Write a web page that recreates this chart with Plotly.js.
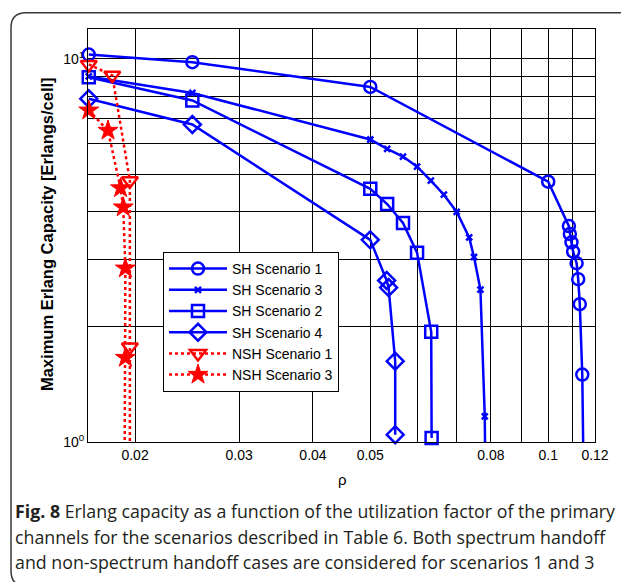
<!DOCTYPE html>
<html>
<head>
<meta charset="utf-8">
<script src="https://cdn.plot.ly/plotly-3.0.1.min.js"></script>
<style>html,body{margin:0;padding:0;background:#fff;}</style>
</head>
<body>
<div id="chart" style="width:621px;height:582px;"></div>
<script>
// ---- data ----
const sh1X = [0.0167, 0.025, 0.05, 0.1, 0.1084, 0.1088, 0.1095, 0.1102, 0.1117, 0.1124, 0.1131, 0.1142, 0.1148];
const sh1Y = [10.26, 9.8, 8.45, 4.78, 3.66, 3.49, 3.32, 3.14, 2.93, 2.66, 2.29, 1.50, 0.8];

const sh3X = [0.0167, 0.025, 0.05, 0.0534, 0.0568, 0.06, 0.0633, 0.0666, 0.07, 0.0735, 0.0749, 0.0768, 0.0781, 0.0783];
const sh3Y = [9.0, 8.15, 6.16, 5.82, 5.56, 5.23, 4.81, 4.42, 3.99, 3.42, 3.04, 2.50, 1.167, 0.8];

const sh2X = [0.0167, 0.025, 0.05, 0.0534, 0.0568, 0.06, 0.0634, 0.0635];
const sh2Y = [8.95, 7.79, 4.58, 4.18, 3.73, 3.12, 1.94, 1.024];

const sh4X = [0.0167, 0.025, 0.05, 0.0533, 0.0537, 0.0551, 0.0551];
const sh4Y = [7.87, 6.74, 3.37, 2.64, 2.53, 1.625, 1.045];

const nsh1X = [0.0167, 0.0183, 0.0196, 0.0196, 0.0196];
const nsh1Y = [9.67, 9.06, 4.81, 1.77, 0.8];

const nsh3X = [0.0167, 0.0180, 0.0189, 0.0191, 0.01926, 0.01926, 0.0192];
const nsh3Y = [7.34, 6.50, 4.60, 4.10, 2.84, 1.66, 0.8];

const seriesNames = ['SH Scenario 1', 'SH Scenario 3', 'SH Scenario 2', 'SH Scenario 4', 'NSH Scenario 1', 'NSH Scenario 3'];

const xTickVals = [0.02, 0.03, 0.04, 0.05, 0.08, 0.1, 0.12];
const xTickText = ['0.02', '0.03', '0.04', '0.05', '0.08', '0.1', '0.12'];
const xGridVals = [0.06, 0.07, 0.09, 0.11];
const yTickVals = [1, 10];
const yTickText = ['10<sup>0</sup>', '10<sup>1</sup>'];
const yGridVals = [2, 3, 4, 5, 6, 7, 8, 9];

const xTitle = 'ρ';
const yTitle = '<b>Maximum Erlang Capacity [Erlangs/cell]</b>';
const captionLines = [
  '<b>Fig. 8</b> Erlang capacity as a function of the utilization factor of the primary',
  'channels for the scenarios described in Table 6. Both spectrum handoff',
  'and non-spectrum handoff cases are considered for scenarios 1 and 3'
];

// ---- layout geometry ----
const W = 621, H = 582;
const M = {l: 88, r: 26, t: 29, b: 140};
const PW = W - M.l - M.r, PH = H - M.t - M.b;
const px2x = p => (p - M.l) / PW;
const px2y = p => 1 - (p - M.t) / PH;

const BLUE = '#0000ff', RED = '#ff0000';
const FONT = '"Liberation Sans", Arial, sans-serif';

function tr(x, y, name, color, dash, symbol, size, lw) {
  return {
    x: x, y: y, name: name, type: 'scatter', mode: 'lines+markers',
    cliponaxis: false,
    line: {color: color, width: 2.5, dash: dash},
    marker: {symbol: symbol, size: size, color: color,
             line: {color: color, width: lw}}
  };
}

const data = [
  tr(sh1X, sh1Y, seriesNames[0], BLUE, 'solid', 'circle-open', 12, 2.5),
  tr(sh3X, sh3Y, seriesNames[1], BLUE, 'solid', 'x-thin-open', 6, 2.5),
  tr(sh2X, sh2Y, seriesNames[2], BLUE, 'solid', 'square-open', 12, 2.5),
  tr(sh4X, sh4Y, seriesNames[3], BLUE, 'solid', 'diamond-open', 13, 2.5),
  tr(nsh1X, nsh1Y, seriesNames[4], RED, 'dot', 'triangle-down-open', 14, 2.5),
  tr(nsh3X, nsh3Y, seriesNames[5], RED, 'dot', 'star', 15, 1)
];

// rounded figure border
const bx0 = 11, by0 = 12.7, bx1 = 660, by1 = 586, r = 15;
const borderPath =
  'M ' + px2x(bx1) + ',' + px2y(by0) +
  ' L ' + px2x(bx0 + r) + ',' + px2y(by0) +
  ' Q ' + px2x(bx0) + ',' + px2y(by0) + ' ' + px2x(bx0) + ',' + px2y(by0 + r) +
  ' L ' + px2x(bx0) + ',' + px2y(by1 - r) +
  ' Q ' + px2x(bx0) + ',' + px2y(by1) + ' ' + px2x(bx0 + r) + ',' + px2y(by1) +
  ' L ' + px2x(bx1) + ',' + px2y(by1);

const captionY = [511, 537, 562];
const annotations = captionLines.map((t, i) => ({
  text: t, xref: 'paper', yref: 'paper',
  x: px2x(13), y: px2y(captionY[i]), xanchor: 'left', yanchor: 'middle',
  showarrow: false, align: 'left',
  font: {family: '"Open Sans", "Noto Sans", sans-serif', size: 17.8, color: '#231f20'}
}));
annotations.push({
  text: xTitle, xref: 'paper', yref: 'paper',
  x: px2x(342), y: px2y(479), xanchor: 'center', yanchor: 'middle',
  showarrow: false, font: {family: FONT, size: 15, color: '#000'}
});
annotations.push({
  text: yTitle, xref: 'paper', yref: 'paper', textangle: -90,
  x: px2x(47), y: px2y(234), xanchor: 'center', yanchor: 'middle',
  showarrow: false, font: {family: FONT, size: 16.5, color: '#000'}
});

const gridStyle = {showgrid: true, gridcolor: '#000', gridwidth: 1};

const layout = {
  width: W, height: H,
  margin: M,
  paper_bgcolor: '#fff', plot_bgcolor: '#fff',
  font: {family: FONT, size: 14, color: '#000'},
  showlegend: true,
  legend: {
    x: px2x(163), y: px2y(252), xanchor: 'left', yanchor: 'top',
    bgcolor: '#fff', bordercolor: '#000', borderwidth: 1,
    font: {family: FONT, size: 14, color: '#000'},
    itemwidth: 58
  },
  xaxis: Object.assign({
    type: 'log',
    range: [Math.log10(0.01665), Math.log10(0.12)],
    tickmode: 'array', tickvals: xTickVals, ticktext: xTickText,
    minor: Object.assign({tickmode: 'array', tickvals: xGridVals, ticks: ''}, gridStyle),
    showline: true, linecolor: '#000', linewidth: 1, mirror: true,
    ticks: '', zeroline: false,
    tickfont: {family: FONT, size: 14, color: '#000'}
  }, gridStyle),
  yaxis: Object.assign({
    type: 'log',
    range: [0, 1.078],
    tickmode: 'array', tickvals: yTickVals, ticktext: yTickText,
    minor: Object.assign({tickmode: 'array', tickvals: yGridVals, ticks: ''}, gridStyle),
    showline: true, linecolor: '#000', linewidth: 1, mirror: true,
    ticks: '', zeroline: false,
    tickfont: {family: FONT, size: 14, color: '#000'}
  }, gridStyle),
  shapes: [{
    type: 'path', xref: 'paper', yref: 'paper', path: borderPath,
    line: {color: '#3a3a3a', width: 1.5}
  }],
  annotations: annotations
};

Plotly.newPlot('chart', data, layout, {displayModeBar: false, staticPlot: true});
</script>
</body>
</html>
